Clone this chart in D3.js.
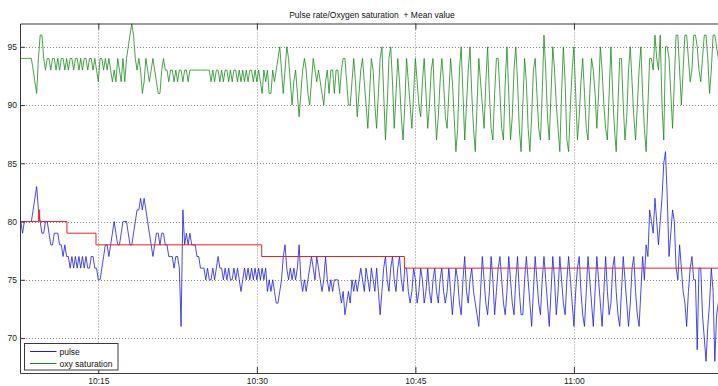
<!DOCTYPE html>
<html><head><meta charset="utf-8">
<script src="https://cdn.jsdelivr.net/npm/d3@7"></script>
<style>body{margin:0;background:#fff}svg{display:block}</style>
</head><body>
<script>
// sampling base of the recordings: 10:07:40, one sample every 10 s (minutes after 10:00)
const sampleStartMin = 7 + 40 / 60;
const sampleStepMin = 10 / 60;

// oxygen saturation (%)
const spo2A = [94,94,94,94,94,94,94,93,92,91, 94,96,96,94,93,94,94,93,94,94, 93,94,93,94,94,93,94,93,94,94, 93,94,94,93,94,93,94,94,93,94, 94,93,94,93,92,94,94,93,94,93, 94,93,92,93,92,94,93,92,94,92];
const spo2B = [94,95,96,97,96,94,93,94,93,91, 92,94,93,92,93,94,93,92,91,91, 93,94,93,93,92,93,93,92,93,92, 93,93,92,93,93,92,93,93,93,93, 93,93,93,93,93,93,93,93,92,93, 92,93,93,92,93,92,93,93,92,93];
const spo2C = [92,93,93,92,93,92,93,92,93,92, 93,93,92,93,92,93,92,91,93,92, 93,91,91,93,92,93,94,95,93,91, 93,95,94,92,90,92,93,91,89,91, 93,94,93,91,90,92,94,93,92,93, 92,91,90,92,93,91,93,93,91,93];
const spo2D = [93,91,93,94,94,92,90,90,92,94, 92,89,91,93,94,92,90,88,91,94, 93,90,88,91,94,95,91,87,90,94, 95,92,88,91,94,92,89,87,90,94, 92,90,88,91,94,92,90,89,92,94, 91,88,90,93,94,90,87,89,92,94];
const spo2E = [92,89,88,91,94,92,89,86,88,93, 95,91,87,90,93,95,91,88,86,90, 94,92,90,88,92,95,91,88,87,91, 94,94,91,88,87,92,95,91,87,89, 93,95,92,88,86,90,94,92,88,86, 89,93,94,91,88,87,91,96,93,89];
const spo2F = [87,91,95,93,90,88,86,91,95,92, 87,86,90,93,95,91,87,89,92,94, 91,88,87,91,94,93,91,88,91,95, 93,90,88,87,91,95,91,88,86,90, 94,94,90,87,89,93,95,92,89,87, 90,93,95,91,88,86,90,94,94,93];
const spo2G = [96,94,93,96,90,87,95,95,94,91, 88,92,96,96,93,90,93,96,96,94, 92,93,96,96,95,93,92,94,96,96, 94,91,93,96,96,95,94,94,95];

// pulse rate (bpm)
const pulseA = [80,79,80,80,80,80,80,81,82,83, 81,80,79,79,80,80,79,78,78,79, 79,79,78,78,77,78,77,77,76,77, 76,77,76,77,76,77,76,77,76,76, 77,77,76,76,75,75,76,77,78,78, 77,78,79,80,79,78,78,79,80,80];
const pulseB = [80,79,78,78,79,80,81,81,82,81, 82,81,80,79,78,77,78,79,79,78, 79,79,78,78,77,77,77,76,77,77, 76,71,81,78,79,78,79,78,78,78, 77,77,76,76,76,75,76,75,75,76, 75,76,77,76,76,75,76,75,76,75];
const pulseC = [75,76,75,76,75,74,75,76,75,76, 75,76,75,76,75,76,75,76,75,76, 74,75,74,75,74,73,73,74,75,77, 78,76,75,76,75,76,75,76,78,75, 74,75,74,75,76,77,76,75,77,76, 75,74,75,77,75,74,75,74,75,75];
const pulseD = [75,74,73,74,72,73,74,73,75,74, 75,74,75,76,75,74,76,75,74,76, 75,74,76,74,72,74,76,77,75,74, 76,77,75,74,76,77,75,74,76,76, 74,73,74,76,75,73,74,76,75,73, 74,76,74,73,75,76,74,73,75,76];
const pulseE = [74,73,74,76,74,72,74,76,75,73, 72,75,77,74,73,75,76,74,73,72, 71,74,77,75,73,72,74,77,75,72, 74,76,77,75,73,72,74,77,75,73, 72,75,77,74,72,72,75,77,75,73, 71,74,77,75,73,72,75,77,75,73];
const pulseF = [71,74,77,75,72,74,77,75,73,72, 75,77,75,73,71,74,76,77,74,72, 71,74,77,75,73,71,74,77,75,73, 71,74,77,74,72,73,76,77,74,72, 71,74,77,75,73,71,73,76,77,74, 72,71,74,77,75,78,77,81,80,79];
const pulseG = [82,80,78,80,82,85,86,82,77,79, 81,80,76,75,78,76,74,73,71,74, 76,77,75,75,69,76,76,72,70,68, 71,73,76,74,68,72,73,70,72];

// mean pulse value, step changes (minutes after 10:00)
const meanTime = [7.67, 9.35, 9.45, 12.03, 14.78, 30.46, 43.96, 74.3];
const meanVal  = [80, 81, 80, 79, 78, 77, 76, 76];

// axes
const xLimits = [7.59, 74.2];
const yLimits = [67, 97];
const xTickMin = [15, 30, 45, 60];
const xTickLabels = ["10:15", "10:30", "10:45", "11:00"];
const yTicks = [70, 75, 80, 85, 90, 95];
const titleText = "Pulse rate/Oxygen saturation  + Mean value";
const legendLabels = ["pulse", "oxy saturation"];
const seriesColors = ["#1a1aee", "#1a8a1a", "#ee2020"];

const spo2 = [].concat(spo2A, spo2B, spo2C, spo2D, spo2E, spo2F, spo2G);
const pulse = [].concat(pulseA, pulseB, pulseC, pulseD, pulseE, pulseF, pulseG);

const W = 718, H = 386;
const L = 20, R = 724, T = 23.5, B = 373;
const FONT = "'Liberation Sans', Arial, sans-serif";

const svg = d3.select("body").append("svg").attr("width", W).attr("height", H)
  .style("background", "#fff");

const x = d3.scaleLinear().domain(xLimits).range([L, R]);
const y = d3.scaleLinear().domain(yLimits).range([B, T]);

svg.append("defs").append("clipPath").attr("id", "clip")
  .append("rect").attr("x", L).attr("y", T).attr("width", R - L).attr("height", B - T);

// grid
const grid = svg.append("g").attr("stroke", "#8a8a8a").attr("stroke-width", 1)
  .attr("stroke-dasharray", "1,2");
yTicks.forEach(v => grid.append("line").attr("x1", L).attr("x2", R)
  .attr("y1", Math.round(y(v)) + 0.5).attr("y2", Math.round(y(v)) + 0.5));
xTickMin.forEach(v => grid.append("line").attr("y1", T).attr("y2", B)
  .attr("x1", Math.round(x(v)) + 0.5).attr("x2", Math.round(x(v)) + 0.5));

// series
const toPts = arr => arr.map((v, i) => [sampleStartMin + i * sampleStepMin, v]);
const line = d3.line().x(d => x(d[0])).y(d => y(d[1]));
const plot = svg.append("g").attr("clip-path", "url(#clip)").attr("fill", "none");
plot.append("path").datum(toPts(spo2)).attr("d", line)
  .attr("stroke", seriesColors[1]).attr("stroke-width", 0.8);
plot.append("path").datum(toPts(pulse)).attr("d", line)
  .attr("stroke", seriesColors[0]).attr("stroke-width", 0.8);
const meanLine = d3.line().curve(d3.curveStepAfter).x(d => x(d[0])).y(d => y(d[1]));
plot.append("path").datum(meanTime.map((t, i) => [t, meanVal[i]])).attr("d", meanLine)
  .attr("stroke", seriesColors[2]).attr("stroke-width", 1);

// axes
const axisColor = "#3a3a3a";
function styleAxis(g) {
  g.select(".domain").attr("stroke", axisColor);
  g.selectAll(".tick line").attr("stroke", axisColor);
  g.selectAll(".tick text").attr("fill", "#222").style("font-family", FONT).style("font-size", "8.5px");
}
svg.append("g").attr("transform", `translate(0,${B})`)
  .call(d3.axisBottom(x).tickValues(xTickMin).tickFormat((d, i) => xTickLabels[i])
    .tickSizeInner(-6).tickSizeOuter(0).tickPadding(4.5))
  .call(styleAxis);
svg.append("g").attr("transform", `translate(0,${T})`)
  .call(d3.axisTop(x).tickValues(xTickMin).tickFormat("")
    .tickSizeInner(-6).tickSizeOuter(0))
  .call(styleAxis);
svg.append("g").attr("transform", `translate(${L},0)`)
  .call(d3.axisLeft(y).tickValues(yTicks).tickSizeInner(-5).tickSizeOuter(0).tickPadding(3))
  .call(styleAxis);
svg.append("g").attr("transform", `translate(${R},0)`)
  .call(d3.axisRight(y).tickValues(yTicks).tickFormat("").tickSizeInner(-5).tickSizeOuter(0))
  .call(styleAxis);

// title
svg.append("text").attr("x", (L + R) / 2).attr("y", 18).attr("text-anchor", "middle")
  .style("font-family", FONT).style("font-size", "8.5px").style("white-space", "pre")
  .attr("fill", "#111").text(titleText);

// legend
const lg = svg.append("g");
lg.append("rect").attr("x", 24.5).attr("y", 343.5).attr("width", 93.5).attr("height", 26.5)
  .attr("fill", "#fff").attr("stroke", axisColor);
legendLabels.forEach((lab, i) => {
  const yy = 351.5 + i * 12;
  lg.append("line").attr("x1", 30).attr("x2", 56.5).attr("y1", yy).attr("y2", yy)
    .attr("stroke", seriesColors[i]).attr("stroke-width", 1);
  lg.append("text").attr("x", 59.5).attr("y", yy + 3).text(lab)
    .style("font-family", FONT).style("font-size", "8.5px").attr("fill", "#111");
});
</script>
</body></html>
